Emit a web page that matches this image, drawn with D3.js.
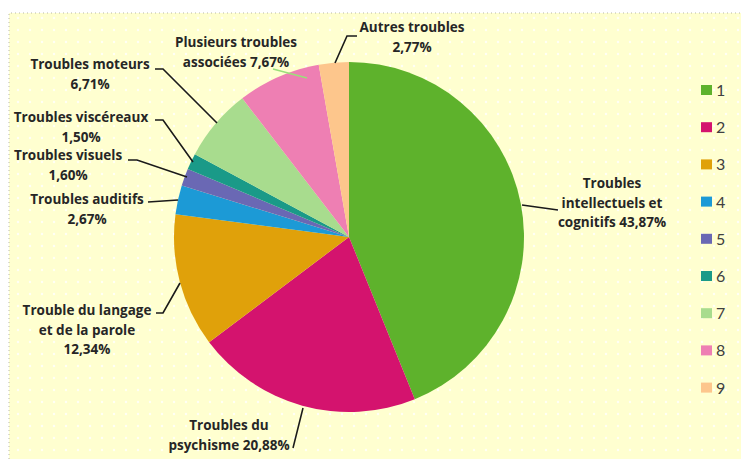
<!DOCTYPE html>
<html>
<head>
<meta charset="utf-8">
<script src="https://cdn.jsdelivr.net/npm/d3@7"></script>
<style>
  body { margin: 0; background: #fff; }
  svg { display: block; }
</style>
</head>
<body>
<div id="chart"></div>
<script>
// data, clockwise from 12 o'clock
const keys = ["1", "2", "3", "4", "5", "6", "7", "8", "9"];
const values = [43.87, 20.88, 12.34, 2.67, 1.60, 1.50, 6.71, 7.67, 2.77];
const labels = [
    ["Troubles", "intellectuels et", "cognitifs 43,87%"],
    ["Troubles du", "psychisme 20,88%"],
    ["Trouble du langage", "et de la parole", "12,34%"],
    ["Troubles auditifs", "2,67%"],
    ["Troubles visuels", "1,60%"],
    ["Troubles viscéreaux", "1,50%"],
    ["Troubles moteurs", "6,71%"],
    ["Plusieurs troubles", "associées 7,67%"],
    ["Autres troubles", "2,77%"]
];
const colors = ["#5eb22c", "#d4136e", "#e0a10a", "#1c9ad6", "#6a68b4", "#1a9a88", "#a8dc8e", "#ee7fb3", "#fdc68c"];

const W = 741, H = 459;
const cx = 349, cy = 237, R = 175;

// label anchor (text centre x, first line y) and leader polylines, per slice
const labelPos = [
    {x: 612, y: 188, pts: [[522, 205], [558, 210]]},
    {x: 229, y: 430, pts: [[303, 408], [293, 448]]},
    {x: 87, y: 315, pts: [[180, 283], [163, 313], [156, 313]]},
    {x: 87, y: 204, pts: [[178, 200], [148, 202]]},
    {x: 68, y: 160, pts: [[187, 177], [137, 160], [128, 160]]},
    {x: 81, y: 122, pts: [[193, 162], [163, 120], [155, 120]]},
    {x: 90, y: 69, pts: [[217, 123], [163, 69], [155, 69]]},
    {x: 236, y: 47, pts: [[307, 78], [273, 69]], stroke: "#9be07a"},
    {x: 412, y: 32, pts: [[335, 63], [347, 36], [357, 36]]}
];

const svg = d3.select("#chart").append("svg")
    .attr("width", W)
    .attr("height", H);

// dotted panel fill
const defs = svg.append("defs");
const pat = defs.append("pattern")
    .attr("id", "dots")
    .attr("width", 12).attr("height", 12)
    .attr("patternUnits", "userSpaceOnUse");
pat.append("rect").attr("width", 12).attr("height", 12).attr("fill", "#ffffd0");
pat.append("circle").attr("cx", 6).attr("cy", 6).attr("r", 1.2).attr("fill", "#ffffff").attr("opacity", 0.8);

svg.append("rect")
    .attr("x", 9).attr("y", 13)
    .attr("width", W - 9).attr("height", H - 13)
    .attr("fill", "url(#dots)");
svg.append("path")
    .attr("d", `M9,${H} V13 H${W}`)
    .attr("fill", "none")
    .attr("stroke", "#b8b8a8")
    .attr("stroke-dasharray", "1,3");

const pie = d3.pie().sort(null).value(d => d)(values);
const arc = d3.arc().innerRadius(0).outerRadius(R);

const g = svg.append("g").attr("transform", `translate(${cx},${cy})`);
g.selectAll(".slice")
    .data(pie)
    .enter()
    .append("path")
    .attr("class", "slice")
    .attr("d", arc)
    .attr("fill", (d, i) => colors[i]);

// leader lines
const line = d3.line();
svg.selectAll(".leader")
    .data(labelPos)
    .enter()
    .append("path")
    .attr("class", "leader")
    .attr("d", d => line(d.pts))
    .attr("fill", "none")
    .attr("stroke", d => d.stroke || "#1a1a1a")
    .attr("stroke-width", 1.6);

// labels
const lab = svg.selectAll(".lab")
    .data(labels)
    .enter()
    .append("text")
    .attr("class", "lab")
    .attr("text-anchor", "middle")
    .attr("font-family", "'Open Sans', sans-serif")
    .attr("font-weight", "bold")
    .attr("font-size", 13.5)
    .attr("fill", "#262626");
lab.each(function(lines, i) {
    const p = labelPos[i];
    d3.select(this).selectAll("tspan")
        .data(lines)
        .enter()
        .append("tspan")
        .attr("x", p.x)
        .attr("y", (t, j) => p.y + j * 19.5)
        .text(t => t);
});

// legend
const legend = svg.append("g").attr("transform", "translate(701,90)");
const item = legend.selectAll(".item")
    .data(keys)
    .enter()
    .append("g")
    .attr("class", "item")
    .attr("transform", (d, i) => `translate(0,${i * 37.2})`);
item.append("rect")
    .attr("x", 0).attr("y", -5)
    .attr("width", 11).attr("height", 10)
    .attr("fill", (d, i) => colors[i]);
item.append("text")
    .attr("x", 15).attr("y", 6)
    .attr("font-family", "Lato, 'Open Sans', sans-serif")
    .attr("font-size", 16)
    .attr("fill", "#404040")
    .text(d => d);
</script>
</body>
</html>
